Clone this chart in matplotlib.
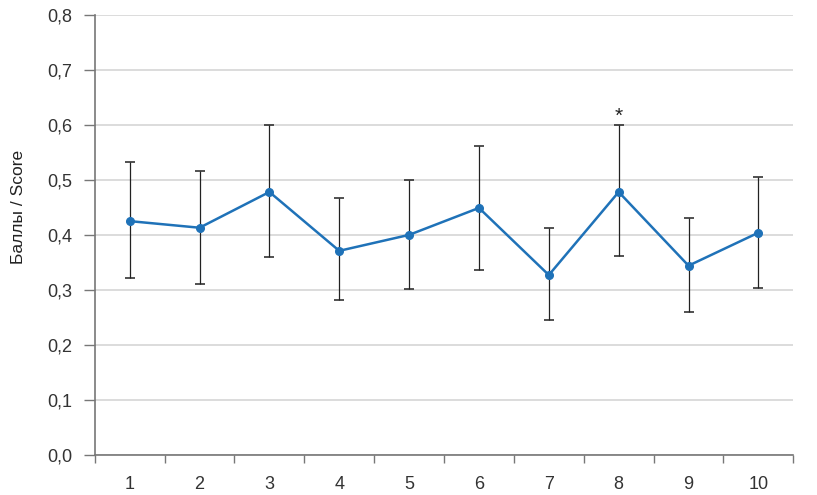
import numpy as np
import matplotlib.pyplot as plt

# Data
groups = [1, 2, 3, 4, 5, 6, 7, 8, 9, 10]
score = [0.425, 0.413, 0.478, 0.371, 0.400, 0.449, 0.327, 0.478, 0.344, 0.404]
err_hi = [0.533, 0.517, 0.599, 0.467, 0.500, 0.562, 0.412, 0.599, 0.431, 0.505]
err_lo = [0.322, 0.310, 0.360, 0.281, 0.302, 0.337, 0.245, 0.361, 0.259, 0.304]
y_ticks = [0.0, 0.1, 0.2, 0.3, 0.4, 0.5, 0.6, 0.7, 0.8]
marked = [8]

plt.rcParams['font.family'] = 'Liberation Sans'
plt.rcParams['font.size'] = 13

fig = plt.figure(figsize=(8.17, 4.95), dpi=100)
ax = fig.add_axes([0.116, 0.081, 0.855, 0.889])

x = np.array(groups)
y = np.array(score)
yerr = [y - np.array(err_lo), np.array(err_hi) - y]

ax.errorbar(x, y, yerr=yerr, fmt='none', ecolor='#222222', elinewidth=0.9,
            capsize=3.5, capthick=1.1, zorder=2)
ax.plot(x, y, color='#1f72b8', linewidth=1.8, marker='o', markersize=5.5, zorder=3)

for g in marked:
    i = groups.index(g)
    ax.text(g, err_hi[i] + 0.017, '*', ha='center', va='center', fontsize=15, color='#222222')

ax.set_xlim(0.5, 10.5)
ax.set_ylim(0, 0.8)
ax.set_yticks(y_ticks)
ax.set_yticklabels([f'{v:.1f}'.replace('.', ',') for v in y_ticks])

# ticks at category boundaries, labels at centers
ax.set_xticks(np.arange(0.5, 11, 1))
ax.set_xticklabels([])
ax.set_xticks(x, minor=True)
ax.set_xticklabels([str(g) for g in groups], minor=True)
ax.tick_params(axis='x', which='major', length=6, color='#777777', width=1)
ax.tick_params(axis='x', which='minor', length=0, pad=15, colors='#333333')
ax.tick_params(axis='y', length=8, color='#777777', width=1, pad=8, colors='#333333')

ax.yaxis.grid(True, color='#d9d9d9', linewidth=1.3)
ax.set_axisbelow(True)
for s in ['top', 'right']:
    ax.spines[s].set_visible(False)
for s in ['left', 'bottom']:
    ax.spines[s].set_color('#777777')
    ax.spines[s].set_linewidth(1.2)

ax.set_ylabel('Баллы / Score', color='#222222', fontsize=12.5)
ax.yaxis.set_label_coords(-0.099, 0.564)

plt.savefig('out.png', dpi=100)
